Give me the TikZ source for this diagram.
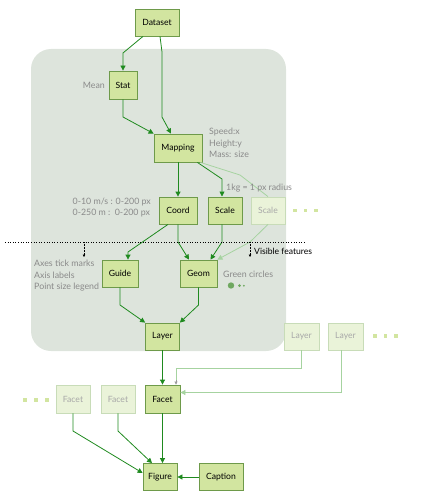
\documentclass[tikz,border=0pt]{standalone}
\usepackage{fontspec}
\setmainfont{Lato}
\usetikzlibrary{arrows.meta,shadows}
\definecolor{boxfill}{HTML}{D2E5A0}
\definecolor{boxborder}{HTML}{6E9A4A}
\definecolor{fadefill}{HTML}{EAF3D9}
\definecolor{fadeborder}{HTML}{C8DCB8}
\definecolor{fadetext}{HTML}{A8A8A8}
\definecolor{arrowgreen}{HTML}{1F8A1F}
\definecolor{lightarrow}{HTML}{A6D3A0}
\definecolor{bgpanel}{HTML}{DDE4DC}
\definecolor{labelgray}{HTML}{8A8A8A}
\definecolor{dotgreen}{HTML}{6FA860}
\definecolor{tipgray}{HTML}{9A9A9A}
\tikzset{
  box/.style={draw=boxborder, fill=boxfill, line width=0.8pt, minimum height=27pt,
    inner sep=1pt, font=\fontsize{8.6}{9}\selectfont, text=black,
    general shadow={fill=boxborder!80, shadow xshift=0.8pt, shadow yshift=-0.8pt}},
  fadebox/.style={draw=fadeborder, fill=fadefill, line width=0.8pt, minimum height=27pt,
    inner sep=1pt, font=\fontsize{8.6}{9}\selectfont, text=fadetext},
  arr/.style={draw=arrowgreen, line width=0.8pt, -{Triangle[length=5pt,width=5pt]}},
  lightarr/.style={draw=lightarrow, line width=0.8pt, -{Triangle[length=5pt,width=5pt]}},
  lightline/.style={draw=lightarrow, line width=0.8pt},
  graytip/.style={draw=tipgray, fill=tipgray, line width=0.6pt, -{Triangle[length=3pt,width=3pt]}},
  lbl/.style={text=labelgray, font=\fontsize{8.8}{11.5}\selectfont, inner sep=0pt, align=left},
  vis/.style={draw=black, densely dotted, line width=0.5pt, -{Triangle[length=2.5pt,width=2.5pt]}},
  dotbox/.style={fill=boxfill, minimum size=3.5pt, inner sep=0pt},
}
\begin{document}
\begin{tikzpicture}[x=1pt,y=-1pt]
\useasboundingbox (0,0) rectangle (423,503);
\fill[bgpanel, rounded corners=20pt] (31,49) rectangle (286,351);

% nodes
\node[box, minimum width=44pt] (Dataset) at (157,22.5) {Dataset};
\node[box, minimum width=28pt, minimum height=28pt] (Stat) at (123,85) {Stat};
\node[box, minimum width=48pt, minimum height=28pt] (Mapping) at (178,148) {Mapping};
\node[box, minimum width=38pt] (Coord) at (178,210.5) {Coord};
\node[box, minimum width=34pt] (Scale) at (225,210.5) {Scale};
\node[fadebox, minimum width=34pt] (ScaleF) at (268,210.5) {Scale};
\node[box, minimum width=36pt] (Guide) at (120,273.5) {Guide};
\node[box, minimum width=37pt] (Geom) at (198.5,273.5) {Geom};
\node[box, minimum width=34pt] (Layer) at (162.5,336.5) {Layer};
\node[fadebox, minimum width=35pt] (LayerFa) at (301.5,336.5) {Layer};
\node[fadebox, minimum width=35pt] (LayerFb) at (345.5,336.5) {Layer};
\node[box, minimum width=35pt, minimum height=28pt] (Facet) at (162.5,399) {Facet};
\node[fadebox, minimum width=34pt, minimum height=28pt] (FacetFb) at (118,399) {Facet};
\node[fadebox, minimum width=34pt, minimum height=28pt] (FacetFa) at (73,399) {Facet};
\node[box, minimum width=34pt] (Figure) at (160,477) {Figure};
\node[box, minimum width=44pt] (Caption) at (221,477) {Caption};

% ellipsis dots
\foreach \i/\x/\y in {a/295/210.5,b/305.5/210.5,c/316/210.5,d/375/336,e/385.5/336,f/396/336,g/25/400,h/36/400,k/47/400}
  \node[dotbox] (dot\i) at (\x,\y) {};

% connectors
\draw[arr] ([xshift=-14pt]Dataset.south) -- (123,53) -- (Stat.north);
\draw[arr] ([xshift=3pt]Dataset.south) -- (162,52) -- (162,117) -- ([xshift=-7pt]Mapping.north);
\draw[arr] (Stat.south) -- (123,117) -- (Mapping.north west);
\draw[arr] (Mapping.south) -- (Coord.north);
\draw[lightline] ([xshift=-2pt]Mapping.south east) -- (240,175) -- (ScaleF.north);
\draw[arr] ([xshift=-5pt]Mapping.south east) -- (222,179) -- (222,196.5);
\draw[arr] ([xshift=-3pt]Scale.south) -- (222,242) -- ([xshift=12pt]Geom.north);
\draw[lightarr] (ScaleF.south) -- (250,242) -- (Geom.north east);
\draw[arr] (Coord.south) -- (178,242) -- ([xshift=-9.5pt]Geom.north);
\draw[arr] ([xshift=-10pt]Coord.south) -- (128,252) -- ([xshift=8pt]Guide.north);
\draw[arr] (Guide.south) -- (120,305) -- (Layer.north west);
\draw[arr] (Geom.south) -- (198.5,305) -- (Layer.north east);
\draw[arr] (Layer.south) -- (Facet.north);
\draw[lightline] (LayerFa.south) -- (301.5,368.5) -- (176,368.5) -- ([xshift=13.5pt, yshift=4pt]Facet.north);
\draw[graytip] ([xshift=13.5pt, yshift=4.5pt]Facet.north) -- ([xshift=13.5pt]Facet.north);
\draw[lightarr] ([xshift=-4pt]LayerFb.south) -- (341.5,392.5) -- ([yshift=6.5pt]Facet.east);
\draw[arr] (FacetFa.south) -- (73,431) -- ([yshift=4pt]Figure.west);
\draw[arr] (FacetFb.south) -- (118,431) -- ([xshift=-8pt]Figure.north);
\draw[arr] (Facet.south) -- (Facet.south |- Figure.north);
\draw[arr] (Caption.west) -- (Figure.east);

% visible features divider
\coordinate (divL) at (5,242);
\coordinate (divR) at (305,242);
\draw[black, dotted, line width=0.6pt] (divL) -- (divR);
\coordinate (vaTop) at (84,242);
\coordinate (vaEnd) at (84,257);
\coordinate (vbTop) at (250,242);
\coordinate (vbEnd) at (250,257);
\draw[vis] (vaTop) -- (vaEnd);
\draw[vis] (vbTop) -- (vbEnd);
\node[inner sep=0pt, anchor=west, font=\fontsize{8.6}{9}\selectfont] (visT) at (254,251) {Visible features};

% labels
\node[lbl, anchor=east] (lMean) at (105,85) {Mean};
\node[lbl, anchor=north west] (lMap) at (209,128) {Speed:x\\Height:y\\Mass: size};
\node[lbl, anchor=west] (lKg) at (226,188) {1kg = 1 px radius};
\node[lbl, anchor=east, align=left] (lCoord) at (151,207.5) {0-10 m/s : 0-200 px\\0-250 m :\ \ 0-200 px};
\node[lbl, anchor=north west] (lGuide) at (34,260) {Axes tick marks\\Axis labels\\Point size legend};
\node[lbl, anchor=west] (lGeom) at (223,274) {Green circles};
\fill[dotgreen] (231,285.5) circle (3.2pt);
\fill[dotgreen] (239.5,285.7) circle (1.5pt);
\fill[dotgreen] (243.8,285.7) circle (1pt);
\end{tikzpicture}
\end{document}
